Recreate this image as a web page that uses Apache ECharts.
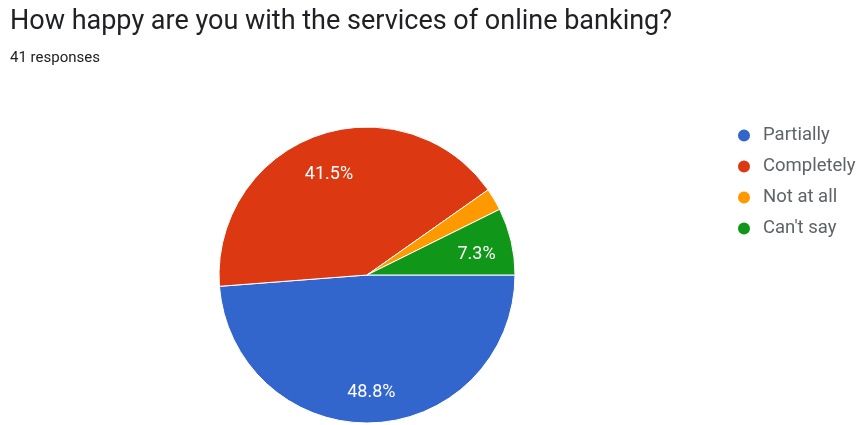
<!DOCTYPE html>
<html>
<head>
<meta charset="utf-8">
<script src="https://cdn.jsdelivr.net/npm/echarts@6/dist/echarts.min.js"></script>
<style>
  html, body { margin: 0; padding: 0; background: #fff; }
  #chart { width: 861px; height: 425px; }
</style>
</head>
<body>
<div id="chart"></div>
<script>
// Survey answers (41 responses)
const categories = ['Partially', 'Completely', 'Not at all', "Can't say"];
const counts = [20, 17, 1, 3];
const colors = ['#3366cc', '#dc3912', '#ff9900', '#109618'];

const pieData = categories.map((name, i) => ({ name, value: counts[i] }));

const chart = echarts.init(document.getElementById('chart'));
const center = [367, 275];
const R = 148;

chart.setOption({
  animation: false,
  color: colors,
  title: [
    {
      text: 'How happy are you with the services of online banking?',
      left: 5, top: 4,
      textStyle: { fontFamily: 'Roboto', fontSize: 27, fontWeight: 'normal', color: '#202124' }
    },
    {
      text: '41 responses',
      left: 5, top: 46,
      textStyle: { fontFamily: 'Roboto', fontSize: 15, fontWeight: 'normal', color: '#202124' }
    }
  ],
  legend: {
    orient: 'vertical',
    left: 731, top: 121,
    icon: 'circle',
    itemWidth: 14, itemHeight: 14, itemGap: 12,
    data: categories,
    textStyle: { fontFamily: 'Roboto', fontSize: 18.5, color: '#5f6368', padding: [0, 0, 0, 7] }
  },
  series: [
    {
      type: 'pie',
      center: center,
      radius: R,
      startAngle: 0,
      clockwise: true,
      data: pieData,
      itemStyle: { borderColor: '#fff', borderWidth: 1 },
      label: { show: false },
      labelLine: { show: false },
      emphasis: { disabled: true }
    },
    {
      // transparent ring used only to place percentage labels near the rim
      type: 'pie',
      center: center,
      radius: [R * 0.48, R],
      startAngle: 0,
      clockwise: true,
      silent: true,
      data: pieData,
      percentPrecision: 1,
      minShowLabelAngle: 10,
      itemStyle: { color: 'rgba(0,0,0,0)' },
      label: {
        show: true,
        position: 'inside',
        formatter: '{d}%',
        fontFamily: 'Roboto',
        fontSize: 18,
        color: '#ffffff'
      },
      labelLayout: { dy: 5 },
      labelLine: { show: false },
      emphasis: { disabled: true },
      legendHoverLink: false
    }
  ]
});
</script>
</body>
</html>
